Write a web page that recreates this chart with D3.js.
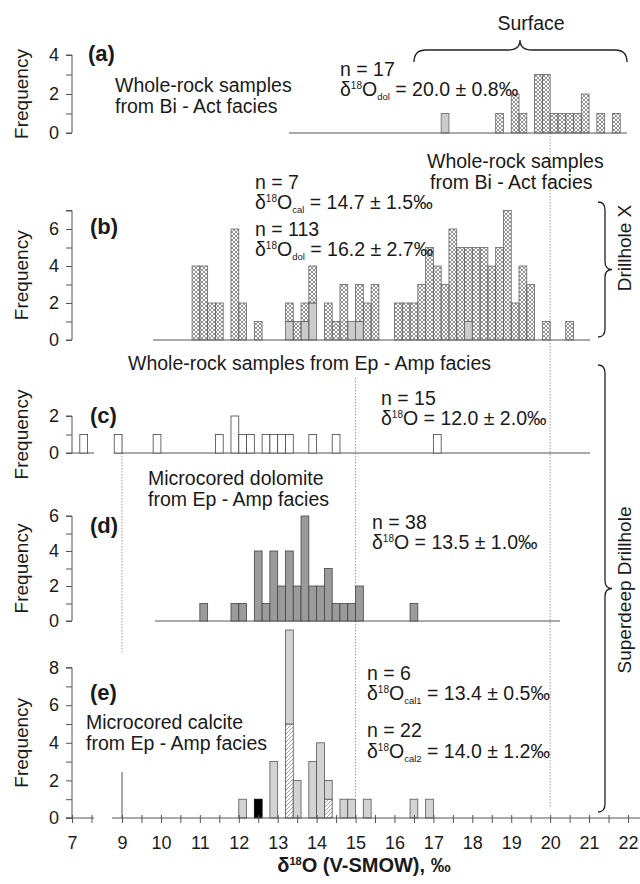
<!DOCTYPE html>
<html>
<head>
<meta charset="utf-8">
<script src="https://cdn.jsdelivr.net/npm/d3@7"></script>
<style>
  body { margin: 0; background: #fff; }
  text { font-family: "Liberation Sans", Arial, sans-serif; fill: #1a1a1a; }
</style>
</head>
<body>
<script>
const width = 640;
const height = 884;
const binWidth = 0.2;
const fs = 19.5; // annotation font size

// x axis labels (broken axis: 7 on its own stub, then 9..22)
const xStubTicks = [7, 7.5];
const xMainTicks = d3.range(9, 22.01, 0.5);

// (a) surface, whole-rock
const aCalBins = [17.2];
const aCalCounts = [1];
const aDolBins = [18.6, 19.0, 19.2, 19.6, 19.8, 20.0, 20.2, 20.4, 20.6, 20.8, 21.2, 21.6];
const aDolCounts = [1, 2, 1, 3, 3, 1, 1, 1, 1, 2, 1, 1];

// (b) drillhole X, whole-rock
const bCalBins = [13.2, 13.6, 13.8, 14.8, 15.0, 17.8];
const bCalCounts = [1, 1, 2, 1, 1, 1];
const bDolBins = [10.8, 11.0, 11.2, 11.4, 11.8, 12.0, 12.4, 13.2, 13.4, 13.6, 13.8, 14.2, 14.4, 14.6, 15.0, 15.2, 15.4,
  16.0, 16.2, 16.4, 16.6, 16.8, 17.0, 17.2, 17.4, 17.6, 17.8, 18.0, 18.2, 18.4, 18.6, 18.8, 19.0, 19.2, 19.4, 19.8, 20.4];
const bDolCounts = [4, 4, 2, 2, 6, 2, 1, 1, 1, 1, 2, 2, 1, 3, 2, 2, 3,
  2, 2, 2, 3, 5, 4, 3, 6, 5, 4, 5, 5, 4, 5, 7, 2, 4, 3, 1, 1];

// (c) superdeep, whole-rock Ep-Amp
const cBins = [7.2, 8.8, 9.8, 11.4, 11.8, 12.0, 12.2, 12.6, 12.8, 13.0, 13.2, 13.8, 14.4, 17.0];
const cCounts = [1, 1, 1, 1, 2, 1, 1, 1, 1, 1, 1, 1, 1, 1];

// (d) microcored dolomite
const dBins = [11.0, 11.8, 12.0, 12.4, 12.6, 12.8, 13.0, 13.2, 13.4, 13.6, 13.8, 14.0, 14.2, 14.4, 14.6, 14.8, 15.0, 16.4];
const dCounts = [1, 1, 1, 4, 1, 4, 2, 4, 2, 6, 2, 2, 3, 1, 1, 1, 2, 1];

// (e) microcored calcite
const eCal1Bins = [13.2, 14.2];
const eCal1Counts = [5, 1];
const eCal2Bins = [12.0, 12.8, 13.2, 13.4, 13.8, 14.0, 14.2, 14.6, 14.8, 15.2, 16.4, 16.8];
const eCal2Counts = [1, 3, 5, 2, 3, 4, 1, 1, 1, 1, 1, 1];
const eBlackBins = [12.4];
const eBlackCounts = [1];

const svg = d3.select("body")
  .append("svg")
  .attr("width", width)
  .attr("height", height);

const defs = svg.append("defs");
defs.append("pattern")
  .attr("id", "cross").attr("width", 4).attr("height", 4)
  .attr("patternUnits", "userSpaceOnUse")
  .append("path").attr("d", "M0,0L4,4M4,0L0,4")
  .attr("stroke", "#777").attr("stroke-width", 0.8);
defs.append("pattern")
  .attr("id", "vert").attr("width", 2).attr("height", 4)
  .attr("patternUnits", "userSpaceOnUse")
  .append("path").attr("d", "M1,0V4")
  .attr("stroke", "#6a6a6a").attr("stroke-width", 0.7);
defs.append("pattern")
  .attr("id", "diag").attr("width", 4).attr("height", 4)
  .attr("patternUnits", "userSpaceOnUse")
  .append("path").attr("d", "M0,4L4,0M-1,1L1,-1M3,5L5,3")
  .attr("stroke", "#7a7a7a").attr("stroke-width", 0.7);

// x scales: main part and the short stub around 7
const x = d3.scaleLinear().domain([9, 22]).range([122, 628]);
const xStub = d3.scaleLinear().domain([7, 7.5]).range([72, 91.5]);
const xs = v => (v < 8 ? xStub(v) : x(v));

const panels = {
  a: { y: d3.scaleLinear().domain([0, 4]).range([133, 55]), max: 4, base: [289, 627] },
  b: { y: d3.scaleLinear().domain([0, 7]).range([340, 210.5]), max: 7, base: [153, 590] },
  c: { y: d3.scaleLinear().domain([0, 2]).range([453, 416]), max: 2, base: [114, 590] },
  d: { y: d3.scaleLinear().domain([0, 6]).range([621, 516]), max: 6, base: [155, 560] },
  e: { y: d3.scaleLinear().domain([0, 8]).range([818, 667.6]), max: 8, base: [112, 640] }
};

const axisColor = "#555";

// reference lines (dotted) at 9, 15 and 20 per mil
const guides = svg.append("g");
[[9, 435, 652], [15, 378, 797], [20, 133, 807]].forEach(([v, y1, y2]) => {
  guides.append("line")
    .attr("x1", x(v)).attr("x2", x(v)).attr("y1", y1).attr("y2", y2)
    .attr("stroke", "#9a9a9a").attr("stroke-dasharray", "1.5,1.5");
});
guides.append("line")
  .attr("x1", x(9)).attr("x2", x(9)).attr("y1", 772).attr("y2", 818)
  .attr("stroke", axisColor);

function drawBars(key, bins, counts, bases, fill, stroke) {
  const y = panels[key].y;
  svg.append("g").selectAll("rect")
    .data(bins.map((b, i) => ({ b, c: counts[i], s: bases ? bases[i] : 0 })))
    .join("rect")
    .attr("x", d => xs(d.b))
    .attr("width", d => xs(d.b + binWidth) - xs(d.b))
    .attr("y", d => y(d.s + d.c))
    .attr("height", d => y(d.s) - y(d.s + d.c))
    .attr("fill", fill)
    .attr("stroke", stroke)
    .attr("stroke-width", 0.8);
}

const stackOn = (bins, underBins, underCounts) =>
  bins.map(b => {
    const i = underBins.findIndex(u => Math.abs(u - b) < 1e-6);
    return i < 0 ? 0 : underCounts[i];
  });

// y axes + baselines
Object.entries(panels).forEach(([key, p]) => {
  const ticks = d3.range(0, p.max + 1);
  const ax = svg.append("g")
    .attr("transform", "translate(72,0)")
    .call(d3.axisLeft(p.y).tickValues(ticks).tickSize(6).tickPadding(7)
      .tickFormat(d => (d % 2 === 0 ? d : "")));
  ax.select(".domain").attr("stroke", axisColor).attr("d", `M-6,${p.y(p.max)}H0V${p.y(0)}H-6`);
  ax.selectAll(".tick line").attr("stroke", axisColor);
  ax.selectAll(".tick text").attr("font-size", 18).attr("fill", "#1a1a1a")
    .attr("font-family", "'Liberation Sans', Arial, sans-serif");

  if (key !== "e") {
    svg.append("line")
      .attr("x1", p.base[0]).attr("x2", p.base[1])
      .attr("y1", p.y(0)).attr("y2", p.y(0))
      .attr("stroke", axisColor);
  }
  const mid = (p.y(0) + p.y(p.max)) / 2;
  svg.append("text")
    .attr("transform", `translate(28,${mid}) rotate(-90)`)
    .attr("text-anchor", "middle")
    .attr("font-size", 19)
    .text("Frequency");
});

// stub baseline for (c)
svg.append("line").attr("x1", 72).attr("x2", 94)
  .attr("y1", panels.c.y(0)).attr("y2", panels.c.y(0)).attr("stroke", axisColor);

// bars
drawBars("a", aCalBins, aCalCounts, null, "url(#vert)", "#666");
drawBars("a", aDolBins, aDolCounts, null, "url(#cross)", "#666");
drawBars("b", bCalBins, bCalCounts, null, "url(#vert)", "#666");
drawBars("b", bDolBins, bDolCounts, stackOn(bDolBins, bCalBins, bCalCounts), "url(#cross)", "#666");
drawBars("c", cBins, cCounts, null, "#fff", "#444");
drawBars("d", dBins, dCounts, null, "#9b9b9b", "#444");
drawBars("e", eCal1Bins, eCal1Counts, null, "url(#diag)", "#555");
drawBars("e", eCal2Bins, eCal2Counts, stackOn(eCal2Bins, eCal1Bins, eCal1Counts), "#d3d3d3", "#555");
drawBars("e", eBlackBins, eBlackCounts, null, "#000", "#000");

// x axis of (e)
const yE0 = panels.e.y(0);
const xAxisMain = svg.append("g")
  .attr("transform", `translate(0,${yE0})`)
  .call(d3.axisBottom(x).tickValues(xMainTicks).tickSize(5).tickPadding(13)
    .tickFormat(d => (Number.isInteger(d) ? d : "")));
const xAxisStub = svg.append("g")
  .attr("transform", `translate(0,${yE0})`)
  .call(d3.axisBottom(xStub).tickValues(xStubTicks).tickSize(5).tickPadding(13)
    .tickFormat(d => (Number.isInteger(d) ? d : "")));
xAxisMain.select(".domain").attr("d", "M112,0H640").attr("stroke", axisColor);
xAxisStub.select(".domain").attr("d", "M66,0H94").attr("stroke", axisColor);
[xAxisMain, xAxisStub].forEach(ax => {
  ax.selectAll(".tick line").attr("stroke", axisColor).attr("y1", -3);
  ax.selectAll(".tick text").attr("font-size", 18).attr("fill", "#1a1a1a")
    .attr("font-family", "'Liberation Sans', Arial, sans-serif");
});

svg.append("text")
  .attr("x", 364).attr("y", 872)
  .attr("text-anchor", "middle")
  .attr("font-size", 20).attr("font-weight", "bold")
  .call(t => {
    t.append("tspan").text("δ");
    t.append("tspan").attr("font-size", 11).attr("dy", -7).text("18");
    t.append("tspan").attr("dy", 7).text("O (V-SMOW), ‰");
  });

// annotation helpers
function plain(txt, xx, yy, size = fs, weight = "normal") {
  svg.append("text").attr("x", xx).attr("y", yy)
    .attr("font-size", size).attr("font-weight", weight).text(txt);
}
function delta(xx, yy, sub, rest) {
  const t = svg.append("text").attr("x", xx).attr("y", yy).attr("font-size", fs);
  t.append("tspan").text("δ");
  t.append("tspan").attr("font-size", 10).attr("dy", -7).text("18");
  t.append("tspan").attr("dy", 7).text("O");
  if (sub) {
    t.append("tspan").attr("font-size", 9.5).attr("dy", 4).text(sub);
    t.append("tspan").attr("dy", -4).text(rest);
  } else {
    t.append("tspan").text(rest);
  }
}

// (a)
plain("(a)", 88, 61, 22, "bold");
plain("Whole-rock samples", 115, 92);
plain("from Bi - Act facies", 115, 113);
plain("n = 17", 340, 76);
delta(340, 96, "dol", " = 20.0 ± 0.8‰");

// (b)
plain("(b)", 90, 234, 22, "bold");
plain("n = 7", 255, 189);
delta(255, 209, "cal", " = 14.7 ± 1.5‰");
plain("n = 113", 255, 236);
delta(255, 256, "dol", " = 16.2 ± 2.7‰");
plain("Whole-rock samples", 427, 168);
plain("from Bi - Act facies", 430, 189);

// (c)
plain("Whole-rock samples from Ep - Amp facies", 128, 370);
plain("(c)", 90, 423, 22, "bold");
plain("n = 15", 381, 405);
delta(381, 425, null, " = 12.0 ± 2.0‰");

// (d)
plain("Microcored dolomite", 148, 485);
plain("from Ep - Amp facies", 148, 506);
plain("(d)", 90, 533, 22, "bold");
plain("n = 38", 372, 529);
delta(372, 549, null, " = 13.5 ± 1.0‰");

// (e)
plain("(e)", 90, 700, 22, "bold");
plain("Microcored calcite", 86, 729);
plain("from Ep - Amp facies", 86, 750);
plain("n = 6", 367, 680);
delta(367, 700, "cal1", " = 13.4 ± 0.5‰");
plain("n = 22", 367, 737);
delta(367, 758, "cal2", " = 14.0 ± 1.2‰");

// braces
const braceStyle = g => g.attr("fill", "none").attr("stroke", "#222").attr("stroke-width", 1.3);
function vBrace(y1, y2, xEnd, xLine, xTip) {
  const ym = (y1 + y2) / 2, r = 8;
  svg.append("path").call(braceStyle).attr("d",
    `M${xEnd},${y1}Q${xLine},${y1} ${xLine},${y1 + r}L${xLine},${ym - r}` +
    `Q${xLine},${ym} ${xTip},${ym}Q${xLine},${ym} ${xLine},${ym + r}` +
    `L${xLine},${y2 - r}Q${xLine},${y2} ${xEnd},${y2}`);
}
svg.append("path").call(braceStyle).attr("d",
  "M414,62Q414,50 426,50L508,50Q520,50 520,40Q520,50 532,50L615,50Q627,50 627,62");
svg.append("text").attr("x", 531).attr("y", 30).attr("text-anchor", "middle")
  .attr("font-size", fs).text("Surface");

vBrace(202, 337, 598, 605, 612);
vBrace(365, 812, 598, 605, 612);
svg.append("text").attr("transform", "translate(631,248) rotate(-90)")
  .attr("text-anchor", "middle").attr("font-size", 19).text("Drillhole X");
svg.append("text").attr("transform", "translate(631,590) rotate(-90)")
  .attr("text-anchor", "middle").attr("font-size", 19).text("Superdeep Drillhole");
</script>
</body>
</html>
